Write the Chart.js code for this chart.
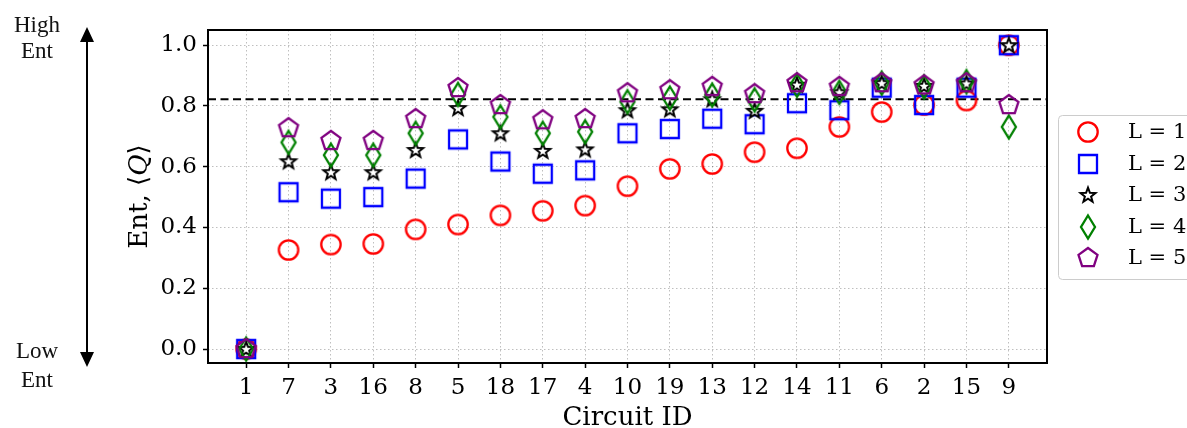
<!DOCTYPE html>
<html>
<head>
<meta charset="utf-8">
<title>Ent vs Circuit ID</title>
<script src="https://cdn.jsdelivr.net/npm/chart.js@4.4.0/dist/chart.umd.min.js"></script>
<style>
  html, body { margin: 0; padding: 0; background: #fff; }
  #wrap { width: 1187px; height: 428px; position: relative; }
</style>
</head>
<body>
<div id="wrap"><canvas id="entChart" width="1187" height="428"></canvas></div>
<script>
// Data
const circuitIds = ['1', '7', '3', '16', '8', '5', '18', '17', '4', '10', '19', '13', '12', '14', '11', '6', '2', '15', '9'];
const entL1 = [0, 0.326, 0.344, 0.346, 0.394, 0.41, 0.44, 0.455, 0.472, 0.536, 0.593, 0.609, 0.648, 0.661, 0.731, 0.78, 0.803, 0.818, 1.0];
const entL2 = [0, 0.516, 0.495, 0.5, 0.561, 0.69, 0.617, 0.577, 0.588, 0.71, 0.724, 0.758, 0.74, 0.809, 0.786, 0.86, 0.803, 0.86, 1.0];
const entL3 = [0, 0.618, 0.582, 0.582, 0.655, 0.793, 0.71, 0.652, 0.657, 0.786, 0.789, 0.822, 0.784, 0.87, 0.845, 0.875, 0.866, 0.874, 1.0];
const entL4 = [0, 0.68, 0.638, 0.638, 0.71, 0.838, 0.764, 0.71, 0.715, 0.814, 0.826, 0.836, 0.82, 0.868, 0.845, 0.875, 0.863, 0.88, 0.731];
const entL5 = [0, 0.727, 0.685, 0.685, 0.757, 0.859, 0.803, 0.753, 0.757, 0.842, 0.852, 0.863, 0.839, 0.875, 0.863, 0.875, 0.868, 0.875, 0.803];
const seriesLabels = ['L = 1', 'L = 2', 'L = 3', 'L = 4', 'L = 5'];
const yTicks = [0, 0.2, 0.4, 0.6, 0.8, 1.0];
const refLevel = 0.822;

const X_MIN = -0.9, X_MAX = 18.9;
const Y_MIN = -0.046, Y_MAX = 1.05;
const SERIF = '"DejaVu Serif", serif';

// Build a hollow matplotlib-like marker on a small canvas
function makeMarker(kind, color) {
    const c = document.createElement('canvas');
    c.width = 30;
    c.height = 30;
    const ctx = c.getContext('2d');
    const m = 15;
    ctx.strokeStyle = color;
    ctx.lineWidth = 2.3;
    ctx.lineJoin = 'miter';
    ctx.beginPath();
    if (kind === 'circle') {
        ctx.arc(m, m, 9.7, 0, Math.PI * 2);
    } else if (kind === 'square') {
        ctx.rect(m - 9, m - 9, 18, 18);
    } else if (kind === 'diamond') {
        ctx.moveTo(m, m - 11.5);
        ctx.lineTo(m + 7, m);
        ctx.lineTo(m, m + 11.5);
        ctx.lineTo(m - 7, m);
        ctx.closePath();
    } else if (kind === 'star') {
        ctx.lineWidth = 2;
        for (let i = 0; i < 10; i++) {
            const r = i % 2 === 0 ? 7.8 : 7.8 * 0.42;
            const ang = -Math.PI / 2 + i * Math.PI / 5;
            const px = m + r * Math.cos(ang), py = m + 0.5 + r * Math.sin(ang);
            if (i === 0) ctx.moveTo(px, py); else ctx.lineTo(px, py);
        }
        ctx.closePath();
        ctx.fillStyle = '#fff';
        ctx.fill();
    } else if (kind === 'pentagon') {
        for (let i = 0; i < 5; i++) {
            const ang = -Math.PI / 2 + i * 2 * Math.PI / 5;
            const px = m + 10 * Math.cos(ang), py = m + 10 * Math.sin(ang);
            if (i === 0) ctx.moveTo(px, py); else ctx.lineTo(px, py);
        }
        ctx.closePath();
    }
    ctx.stroke();
    return c;
}

const markers = [
    makeMarker('circle', '#ff0000'),
    makeMarker('square', '#0000ff'),
    makeMarker('star', '#000000'),
    makeMarker('diamond', '#008000'),
    makeMarker('pentagon', '#800080')
];

function toPoints(values) {
    return values.map((v, i) => ({ x: i, y: v }));
}

// Frame, axis titles, side arrow and legend
const decorPlugin = {
    id: 'decor',
    afterDraw(chart) {
        const ctx = chart.ctx;
        const a = chart.chartArea;
        ctx.save();

        // frame
        ctx.strokeStyle = '#000';
        ctx.lineWidth = 2;
        ctx.strokeRect(a.left, a.top, a.right - a.left, a.bottom - a.top);

        // x axis title
        ctx.fillStyle = '#000';
        ctx.font = '26px ' + SERIF;
        ctx.textAlign = 'center';
        ctx.textBaseline = 'alphabetic';
        ctx.fillText('Circuit ID', (a.left + a.right) / 2, 425);

        // y axis title: Ent, ⟨Q⟩ with italic Q
        const parts = [
            { t: 'Ent, ⟨', f: '26px ' + SERIF },
            { t: 'Q', f: 'italic 26px ' + SERIF },
            { t: '⟩', f: '26px ' + SERIF }
        ];
        let total = 0;
        parts.forEach(p => { ctx.font = p.f; p.w = ctx.measureText(p.t).width; total += p.w; });
        ctx.translate(147, (a.top + a.bottom) / 2);
        ctx.rotate(-Math.PI / 2);
        ctx.textAlign = 'left';
        let cx = -total / 2;
        parts.forEach(p => { ctx.font = p.f; ctx.fillText(p.t, cx, 0); cx += p.w; });
        ctx.setTransform(1, 0, 0, 1, 0, 0);

        // double-headed arrow on the left
        const ax = 87, top = 27, bot = 367;
        ctx.lineWidth = 2;
        ctx.beginPath();
        ctx.moveTo(ax, top + 12);
        ctx.lineTo(ax, bot - 12);
        ctx.stroke();
        ctx.fillStyle = '#000';
        ctx.beginPath();
        ctx.moveTo(ax, top); ctx.lineTo(ax - 7, top + 15); ctx.lineTo(ax + 7, top + 15); ctx.closePath();
        ctx.moveTo(ax, bot); ctx.lineTo(ax - 7, bot - 15); ctx.lineTo(ax + 7, bot - 15); ctx.closePath();
        ctx.fill();

        ctx.font = '23px "Liberation Serif", serif';
        ctx.textAlign = 'center';
        ctx.fillStyle = '#111';
        ctx.fillText('High', 37, 32);
        ctx.fillText('Ent', 37, 58);
        ctx.fillText('Low', 37, 358);
        ctx.fillText('Ent', 37, 387);

        // legend
        ctx.fillStyle = 'rgba(255,255,255,0.9)';
        ctx.strokeStyle = '#cccccc';
        ctx.lineWidth = 1;
        ctx.beginPath();
        ctx.roundRect(1058.5, 115.5, 140, 164, 4);
        ctx.fill();
        ctx.stroke();
        ctx.font = '21px ' + SERIF;
        ctx.textAlign = 'left';
        ctx.textBaseline = 'middle';
        ctx.fillStyle = '#000';
        seriesLabels.forEach((lab, i) => {
            const y = 132 + i * 31.5;
            const mk = markers[i];
            ctx.drawImage(mk, 1088 - mk.width / 2, Math.round(y) - mk.height / 2);
            ctx.fillText(lab, 1128, y + 1);
        });
        ctx.restore();
    }
};

function buildDatasets() {
    const all = [entL1, entL2, entL3, entL4, entL5];
    const sets = all.map((vals, i) => ({
        type: 'scatter',
        label: seriesLabels[i],
        data: toPoints(vals),
        pointStyle: markers[i],
        pointRadius: 10,
        pointHoverRadius: 10,
        order: 5 - i,
        clip: false
    }));
    // dashed reference line across the whole axis range
    sets.push({
        type: 'line',
        label: 'ref',
        data: [{ x: X_MIN, y: refLevel }, { x: X_MAX, y: refLevel }],
        borderColor: '#000',
        borderWidth: 2,
        borderDash: [8, 4.5],
        pointRadius: 0,
        order: 10
    });
    return sets;
}

const gridOpts = {
    color: 'rgba(0,0,0,0.25)',
    lineWidth: 1,
    tickColor: '#000',
    tickLength: 5,
    tickWidth: 1.5,
    tickBorderDash: []
};

new Chart(document.getElementById('entChart'), {
    type: 'scatter',
    data: { datasets: buildDatasets() },
    options: {
        responsive: false,
        animation: false,
        devicePixelRatio: 1,
        layout: { padding: { top: 30, right: 140, left: 0, bottom: 0 } },
        plugins: {
            legend: { display: false },
            tooltip: { enabled: false },
            title: { display: false }
        },
        scales: {
            x: {
                type: 'linear',
                min: X_MIN,
                max: X_MAX,
                afterBuildTicks: scale => { scale.ticks = circuitIds.map((_, i) => ({ value: i })); },
                afterFit: scale => { scale.height = 65; },
                grid: gridOpts,
                border: { display: false, dash: [1.5, 2.5] },
                ticks: {
                    autoSkip: false,
                    maxRotation: 0,
                    padding: 6,
                    color: '#000',
                    font: { family: SERIF, size: 23 },
                    callback: v => circuitIds[v]
                }
            },
            y: {
                min: Y_MIN,
                max: Y_MAX,
                afterBuildTicks: scale => { scale.ticks = yTicks.map(v => ({ value: v })); },
                afterFit: scale => { scale.width = 208; },
                grid: gridOpts,
                border: { display: false, dash: [1.5, 2.5] },
                ticks: {
                    padding: 6,
                    color: '#000',
                    font: { family: SERIF, size: 23 },
                    callback: v => v.toFixed(1)
                }
            }
        }
    },
    plugins: [decorPlugin]
});
</script>
</body>
</html>
